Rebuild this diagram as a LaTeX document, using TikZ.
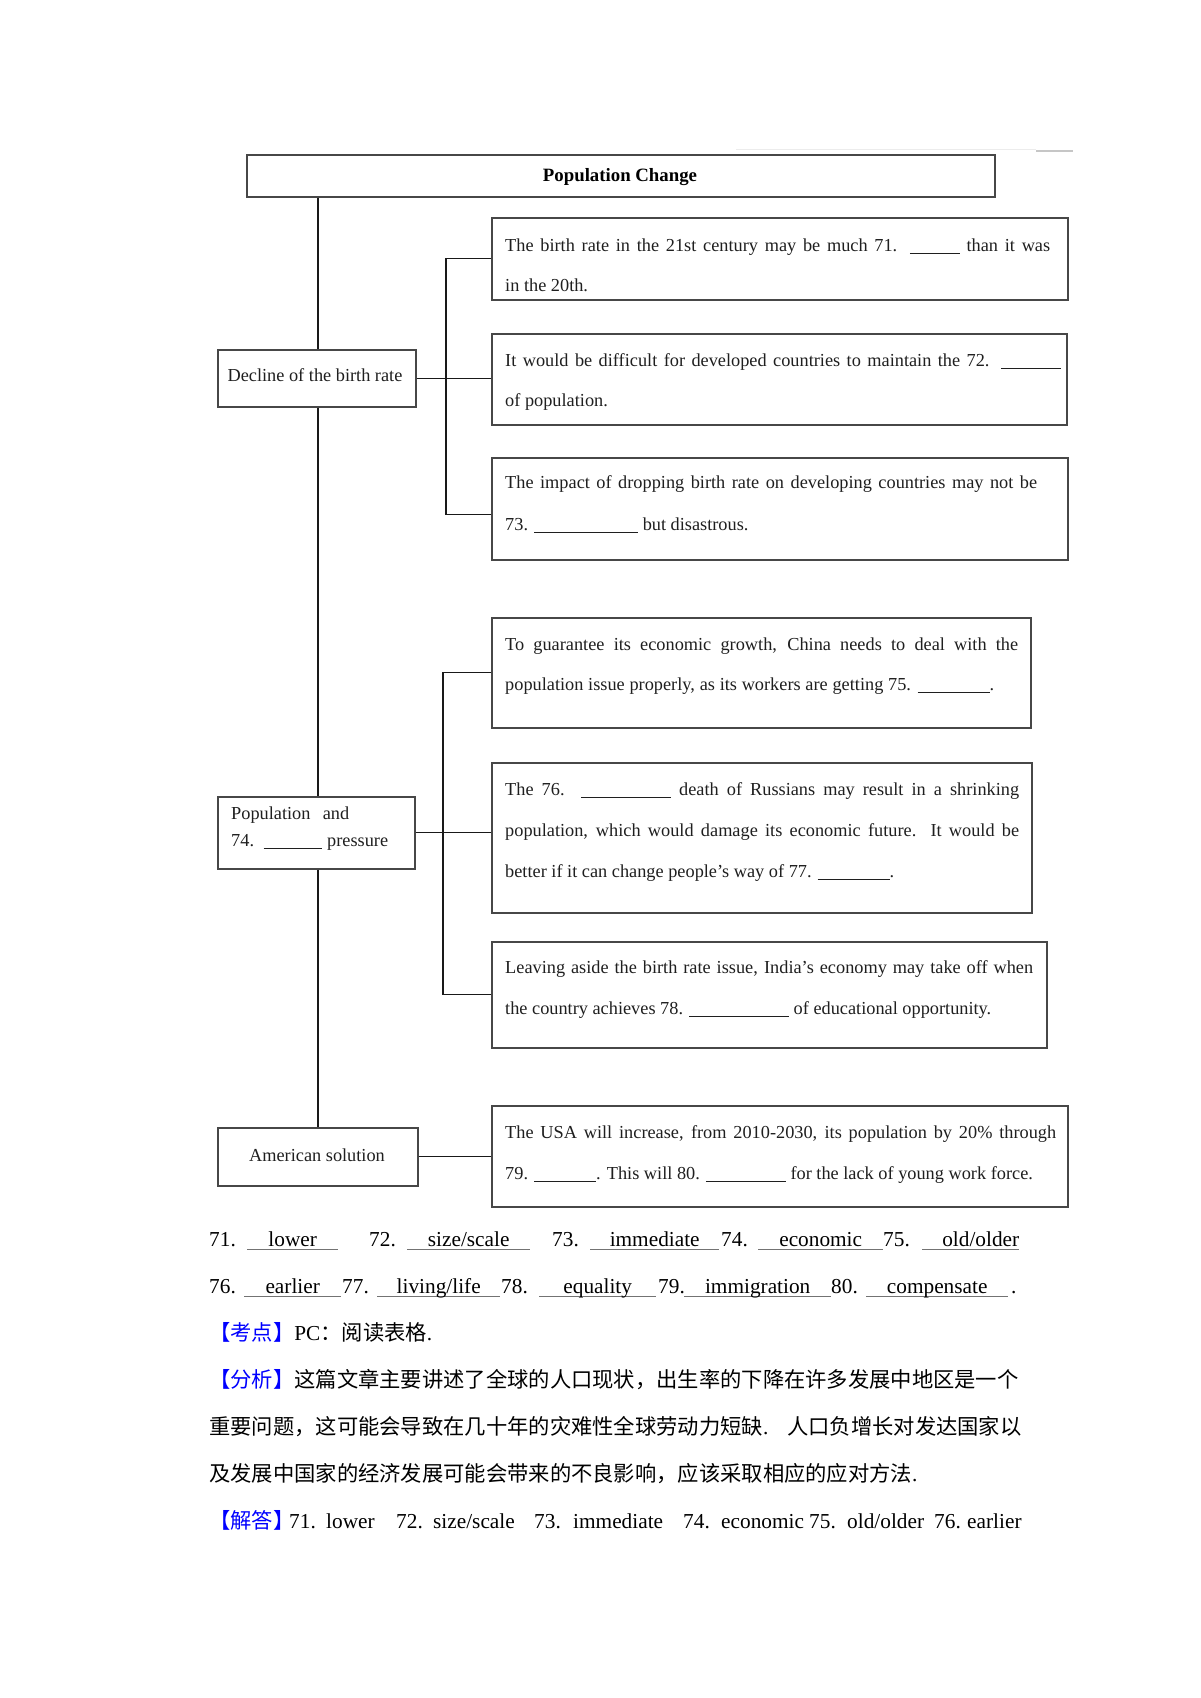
\documentclass[tikz,border=0pt]{standalone}
\usepackage{fontspec}
\setmainfont{Liberation Serif}
\newfontfamily\cjk{Noto Sans CJK SC}
\definecolor{hdblue}{RGB}{0,0,255}
\newcommand\boxfont{\fontsize{18.3}{22}\selectfont}
\newcommand\ansfont{\fontsize{21.3}{25}\selectfont}
\newcommand\jl[2]{\makebox[#1pt][s]{#2}}
\newcommand\blank[1]{\rule[-2.5pt]{#1pt}{0.9pt}}
\newcommand\uans[3][c]{\rlap{\textcolor{black!55}{\rule[-3.5pt]{#2pt}{1pt}}}\makebox[#2pt][#1]{#3}}
\begin{document}
\begin{tikzpicture}[x=1pt,y=-1pt,
  box/.style={draw=black!72, line width=1.6pt, inner sep=0pt, anchor=north west, rectangle},
  conn/.style={draw=black!90, line width=1.3pt},
  txt/.style={anchor=base west, inner sep=0pt, font=\boxfont, text=black!88},
  ctxt/.style={anchor=base, inner sep=0pt, font=\boxfont, text=black!88},
  ans/.style={anchor=base west, inner sep=0pt, font=\ansfont},
  cj/.style={anchor=base west, inner sep=0pt, font=\ansfont\cjk}]
\useasboundingbox (0,0) rectangle (1200,1698);
\fill[white] (0,0) rectangle (1200,1698);
% faint artefact line top right
\draw[gray!15, line width=1pt] (736,149) -- (1036,149);
\draw[gray!45, line width=2pt] (1036,151) -- (1073,151);

% boxes
\node[box, minimum width=748pt, minimum height=42pt] (title) at (246,154) {};
\node[box, minimum width=576pt, minimum height=82pt] (b1) at (491,217) {};
\node[box, minimum width=575pt, minimum height=91pt] (b2) at (491,333) {};
\node[box, minimum width=576pt, minimum height=102pt] (b3) at (491,457) {};
\node[box, minimum width=539pt, minimum height=110pt] (b4) at (491,617) {};
\node[box, minimum width=540pt, minimum height=150pt] (b5) at (491,762) {};
\node[box, minimum width=555pt, minimum height=106pt] (b6) at (491,941) {};
\node[box, minimum width=576pt, minimum height=101pt] (b7) at (491,1105) {};
\node[box, minimum width=198pt, minimum height=57pt] (decline) at (217,349) {};
\node[box, minimum width=197pt, minimum height=72pt] (pop) at (217,796) {};
\node[box, minimum width=200pt, minimum height=58pt] (amer) at (217,1127) {};

% connectors
\coordinate (m) at (318,0);
\coordinate (j1) at (446,0);
\coordinate (j2) at (443,0);
\coordinate (c3) at ([yshift=-6pt]b3.west);
\draw[conn] (title.south -| m) -- (decline.north -| m);
\draw[conn] (decline.south -| m) -- (pop.north -| m);
\draw[conn] (pop.south -| m) -- (amer.north -| m);
\draw[conn] (decline.east) -- (decline.east -| b2.west);
\draw[conn] (b1.west) -- (b1.west -| j1) -- (c3 -| j1) -- (c3);
\draw[conn] (pop.east) -- (pop.east -| b5.west);
\draw[conn] (b4.west) -- (b4.west -| j2) -- (b6.west -| j2) -- (b6.west);
\draw[conn] (amer.east) -- (amer.east -| b7.west);

% texts in boxes
\node[ctxt, font=\fontsize{18.8}{22}\selectfont\bfseries, text=black] (ttl) at (620,181) {Population Change};
\node[ctxt] (tdec) at (315,381) {Decline of the birth rate};
\node[txt] (tpop1) at (231,819) {\jl{118}{Population and}};
\node[txt] (tpop2) at (231,846) {\jl{157}{74. \blank{58} pressure}};
\node[ctxt] (tamer) at (317,1161) {American solution};

\node[txt] (t11) at (505,251) {\jl{545}{The birth rate in the 21st century may be much 71. \blank{50} than it was}};
\node[txt] (t12) at (505,291) {in the 20th.};
\node[txt] (t21) at (505,366) {\jl{556}{It would be difficult for developed countries to maintain the 72. \blank{60}}};
\node[txt] (t22) at (505,406) {of population.};
\node[txt] (t31) at (505,488) {\jl{532}{The impact of dropping birth rate on developing countries may not be}};
\node[txt] (t32) at (505,530) {73. \blank{104} but disastrous.};
\node[txt] (t41) at (505,650) {\jl{513}{To guarantee its economic growth, China needs to deal with the}};
\node[txt] (t42) at (505,690) {\jl{489}{population issue properly, as its workers are getting 75. \blank{72}.}};
\node[txt] (t51) at (505,795) {\jl{514}{The 76. \blank{90} death of Russians may result in a shrinking}};
\node[txt] (t52) at (505,836) {\jl{514}{population, which would damage its economic future. It would be}};
\node[txt] (t53) at (505,877) {better if it can change people's way of 77. \blank{72}.};
\node[txt] (t61) at (505,973) {\jl{528}{Leaving aside the birth rate issue, India's economy may take off when}};
\node[txt] (t62) at (505,1014) {the country achieves 78. \blank{100} of educational opportunity.};
\node[txt] (t71) at (505,1138) {\jl{551}{The USA will increase, from 2010-2030, its population by 20\% through}};
\node[txt] (t72) at (505,1179) {79. \blank{62}. This will 80. \blank{80} for the lack of young work force.};

% answers row 1
\node[ans] (a71) at (209,1246) {71.};
\node[ans] (u71) at (247,1246) {\uans{91}{lower}};
\node[ans] (a72) at (369,1246) {72.};
\node[ans] (u72) at (407,1246) {\uans{123}{size/scale}};
\node[ans] (a73) at (552,1246) {73.};
\node[ans] (u73) at (590,1246) {\uans{129}{immediate}};
\node[ans] (a74) at (721,1246) {74.};
\node[ans] (u74) at (758,1246) {\uans{125}{economic}};
\node[ans] (a75) at (883,1246) {75.};
\node[ans] (u75) at (922,1246) {\uans[r]{97}{old/older}};
% answers row 2
\node[ans] (a76) at (209,1293) {76.};
\node[ans] (u76) at (244,1293) {\uans{97}{earlier}};
\node[ans] (a77) at (342,1293) {77.};
\node[ans] (u77) at (377,1293) {\uans{123}{living/life}};
\node[ans] (a78) at (501,1293) {78.};
\node[ans] (u78) at (539,1293) {\uans{117}{equality}};
\node[ans] (a79) at (658,1293) {79.};
\node[ans] (u79) at (684,1293) {\uans{147}{immigration}};
\node[ans] (a80) at (831,1293) {80.};
\node[ans] (u80) at (866,1293) {\uans{142}{compensate}};
\node[ans] (dot80) at (1011,1293) {.};

% Chinese analysis
\node[cj] (kd) at (209,1340) {{\color{hdblue}【考点】}{\rmfamily PC}：阅读表格{\rmfamily .}};
\node[cj] (fx1) at (209,1387) {{\color{hdblue}【分析】}这篇文章主要讲述了全球的人口现状，出生率的下降在许多发展中地区是一个};
\node[cj] (fx2a) at (209,1434) {重要问题，这可能会导致在几十年的灾难性全球劳动力短缺{\rmfamily .}};
\node[cj] (fx2b) at (787,1434) {人口负增长对发达国家以};
\node[cj] (fx3) at (209,1481) {及发展中国家的经济发展可能会带来的不良影响，应该采取相应的应对方法{\rmfamily .}};
\node[cj] (jd) at (209,1528) {\color{hdblue}【解答】};
\node[ans] (j71) at (289,1528) {71.};
\node[ans] (j71w) at (326,1528) {lower};
\node[ans] (j72) at (396,1528) {72.};
\node[ans] (j72w) at (433,1528) {size/scale};
\node[ans] (j73) at (534,1528) {73.};
\node[ans] (j73w) at (573,1528) {immediate};
\node[ans] (j74) at (683,1528) {74.};
\node[ans] (j74w) at (721,1528) {economic};
\node[ans] (j75) at (809,1528) {75.};
\node[ans] (j75w) at (847,1528) {old/older};
\node[ans] (j76) at (934,1528) {76.};
\node[ans] (j76w) at (967,1528) {earlier};
\end{tikzpicture}
\end{document}
